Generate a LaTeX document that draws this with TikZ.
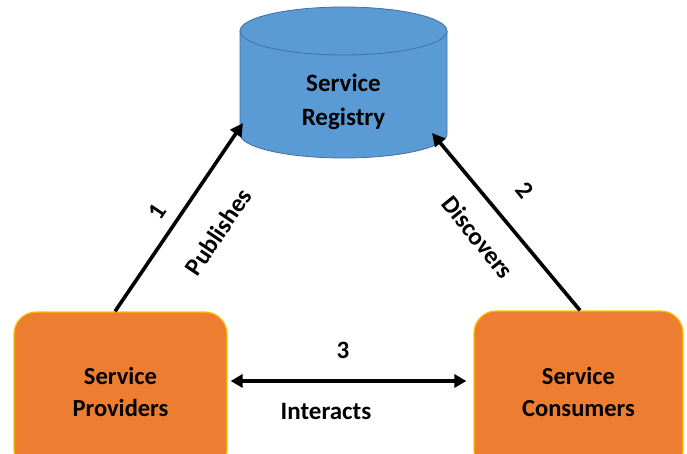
\documentclass[tikz,border=0pt]{standalone}
\usepackage{fontspec}
\setmainfont{Carlito}
\usetikzlibrary{arrows.meta}
\definecolor{regblue}{HTML}{5B9BD5}
\definecolor{regedge}{HTML}{41719C}
\definecolor{boxorange}{HTML}{ED7D31}
\definecolor{boxedge}{HTML}{FFC000}
\tikzset{
  actor/.style={draw=boxedge, line width=1.2pt, fill=boxorange, rounded corners=22pt,
    align=center, font=\fontsize{24.5}{32}\selectfont\bfseries, text=black},
  arr/.style={line width=3.6pt, -{Triangle[length=13pt,width=13pt]}},
  dblarr/.style={line width=3.6pt, {Triangle[length=12pt,width=13pt]}-{Triangle[length=12pt,width=13pt]}},
  lbl/.style={font=\fontsize{25}{28}\selectfont\bfseries, text=black, inner sep=0pt},
}
\begin{document}
\begin{tikzpicture}[x=1pt,y=1pt]
\useasboundingbox (0,0) rectangle (687,453);
\clip (0,0) rectangle (687,453);
% registry cylinder
\path[fill=regblue, draw=regedge, line width=0.8pt]
  (240,422) -- (240,319) arc[start angle=180,end angle=360,x radius=103.5,y radius=24]
  -- (447,422) arc[start angle=0,end angle=180,x radius=103.5,y radius=24] -- cycle;
\draw[regedge, line width=0.8pt] (240,422) arc[start angle=180,end angle=360,x radius=103.5,y radius=24];
\node[align=center, font=\fontsize{25}{34}\selectfont\bfseries] (reg) at (343.5,351) {Service\\Registry};
\coordinate (regL) at (243,330);
\coordinate (regR) at (432,320);
% actors
\node[actor, minimum width=213pt, minimum height=160pt] (prov) at (120.5,61) {Service\\Providers};
\node[actor, minimum width=209pt, minimum height=162pt] (cons) at (578.5,61) {Service\\Consumers};
% connectors
\draw[arr] ([xshift=-5.5pt]prov.north) -- (regL);
\draw[arr] ([xshift=1.5pt]cons.north) -- (regR);
\draw[dblarr] ([shift={(3pt,11pt)}]prov.east) -- ([shift={(-7pt,11pt)}]cons.west);
% labels
\node[lbl, rotate=56] (n1) at (157,241) {1};
\node[lbl, rotate=56] (pub) at (218,221) {Publishes};
\node[lbl, rotate=-51] (n2) at (525,263) {2};
\node[lbl, rotate=-51] (disc) at (478,216) {Discovers};
\node[lbl] (n3) at (343,103) {3};
\node[lbl] (inter) at (326,42) {Interacts};
\end{tikzpicture}
\end{document}
